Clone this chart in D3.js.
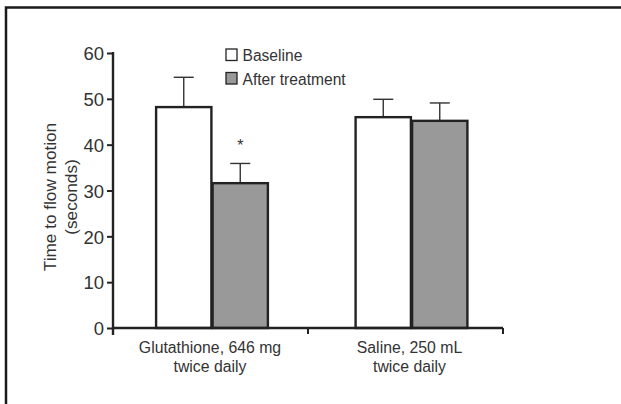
<!DOCTYPE html>
<html>
<head>
<meta charset="utf-8">
<script src="https://cdn.jsdelivr.net/npm/d3@7"></script>
<style>
  html, body { margin: 0; padding: 0; background: #fff; }
  svg { display: block; }
  text { font-family: "Liberation Sans", Arial, sans-serif; fill: #333; }
</style>
</head>
<body>
<svg id="chart" width="621" height="404"></svg>
<script>
// Groups, series and measured values (mean and upper error bound, seconds)
const groups = ["Glutathione, 646 mg|twice daily", "Saline, 250 mL|twice daily"];
const series = ["Baseline", "After treatment"];
const baselineMean = [48.2, 46.0];
const baselineUpper = [54.7, 49.9];
const afterMean = [31.6, 45.2];
const afterUpper = [35.9, 49.1];
const significant = [true, false];
const yTicks = [0, 10, 20, 30, 40, 50, 60];

const colors = { "Baseline": "#ffffff", "After treatment": "#999999" };
const ink = "#222";

const svg = d3.select("#chart");

// Outer frame (left and top edges fall inside the canvas)
svg.append("rect")
  .attr("x", 6).attr("y", 7.5)
  .attr("width", 700).attr("height", 500)
  .attr("fill", "none").attr("stroke", "#1a1a1a").attr("stroke-width", 2.5);

const margin = { left: 113, right: 118, top: 53, bottom: 76 };
const W = 621, H = 404;

// Band scale for the category axis ticks, point scale for the bar-pair centres
const x0 = d3.scaleBand().domain(groups).range([margin.left, W - margin.right]).padding(0);
const xc = d3.scalePoint().domain(groups).range([212, 411.5]);
const x1 = d3.scaleBand().domain(series).range([-56.5, 56.5]).padding(0);
const y = d3.scaleLinear().domain([0, 60]).range([H - margin.bottom, margin.top]);

const rows = groups.map((g, i) => ({
  group: g,
  bars: [
    { key: "Baseline", mean: baselineMean[i], upper: baselineUpper[i] },
    { key: "After treatment", mean: afterMean[i], upper: afterUpper[i] }
  ],
  sig: significant[i]
}));

const g = svg.append("g");

// Bars with upward error bars
const grp = g.selectAll("g.grp").data(rows).join("g")
  .attr("class", "grp")
  .attr("transform", d => `translate(${xc(d.group)},0)`);

const bar = grp.selectAll("g.bar").data(d => d.bars).join("g").attr("class", "bar");
const mid = d => x1(d.key) + x1.bandwidth() / 2;

bar.append("line")
  .attr("x1", mid).attr("x2", mid)
  .attr("y1", d => y(d.mean)).attr("y2", d => y(d.upper))
  .attr("stroke", "#333").attr("stroke-width", 1.4);
bar.append("line")
  .attr("x1", d => mid(d) - 10).attr("x2", d => mid(d) + 10)
  .attr("y1", d => y(d.upper)).attr("y2", d => y(d.upper))
  .attr("stroke", "#333").attr("stroke-width", 1.4);

bar.append("rect")
  .attr("x", d => x1(d.key) + 0.6)
  .attr("width", x1.bandwidth() - 1.2)
  .attr("y", d => y(d.mean))
  .attr("height", d => y(0) - y(d.mean))
  .attr("fill", d => colors[d.key])
  .attr("stroke", ink).attr("stroke-width", 2.4);

// Significance marker
grp.filter(d => d.sig).append("text")
  .attr("x", x1("After treatment") + x1.bandwidth() / 2)
  .attr("y", d => y(d.bars[1].upper) - 12)
  .attr("text-anchor", "middle")
  .attr("font-size", 16)
  .text("*");

// Y axis
const yAxis = g.append("g")
  .attr("transform", `translate(${margin.left},0)`)
  .call(d3.axisLeft(y).tickValues(yTicks).tickSize(6).tickPadding(3));
yAxis.select(".domain").remove();
yAxis.append("line")
  .attr("x1", 0).attr("x2", 0)
  .attr("y1", y(60) - 1).attr("y2", y(0) + 7)
  .attr("stroke", ink).attr("stroke-width", 2.4);
yAxis.selectAll(".tick line").attr("stroke", ink).attr("stroke-width", 2);
yAxis.selectAll(".tick text")
  .attr("font-size", 18.5).attr("fill", "#333")
  .attr("font-family", "Liberation Sans, Arial, sans-serif")
  .attr("dy", "0.36em");

// X axis
const xAxis = g.append("g")
  .attr("transform", `translate(0,${y(0)})`);
xAxis.append("line")
  .attr("x1", margin.left).attr("x2", W - margin.right)
  .attr("stroke", ink).attr("stroke-width", 2.4);
const xTickPos = [x0(groups[1]), x0.range()[1]];
xAxis.selectAll("line.tk").data(xTickPos).join("line")
  .attr("class", "tk")
  .attr("x1", d => d).attr("x2", d => d)
  .attr("y1", 0).attr("y2", 6)
  .attr("stroke", ink).attr("stroke-width", 2);

const xl = xAxis.selectAll("text.cat").data(groups).join("text")
  .attr("class", "cat")
  .attr("x", d => xc(d) - 2)
  .attr("y", 25)
  .attr("text-anchor", "middle")
  .attr("font-size", 15.8);
xl.selectAll("tspan").data(d => d.split("|")).join("tspan")
  .attr("x", function () { return d3.select(this.parentNode).attr("x"); })
  .attr("dy", (d, i) => i === 0 ? 0 : 19)
  .text(d => d);

// Y axis title
svg.append("text")
  .attr("transform", `translate(50,197) rotate(-90)`)
  .attr("text-anchor", "middle")
  .attr("font-size", 17.2)
  .selectAll("tspan").data(["Time to flow motion", "(seconds)"]).join("tspan")
  .attr("x", 0)
  .attr("dy", (d, i) => i === 0 ? "0.35em" : 21)
  .text(d => d);

// Legend
const leg = svg.append("g").attr("transform", "translate(226,49)");
const li = leg.selectAll("g").data(series).join("g")
  .attr("transform", (d, i) => `translate(0,${i * 23.5})`);
li.append("rect")
  .attr("width", 11).attr("height", 11.5)
  .attr("fill", d => colors[d]).attr("stroke", ink).attr("stroke-width", 1.3);
li.append("text")
  .attr("x", 16.5).attr("y", 12)
  .attr("font-size", 15.6)
  .text(d => d);
</script>
</body>
</html>
